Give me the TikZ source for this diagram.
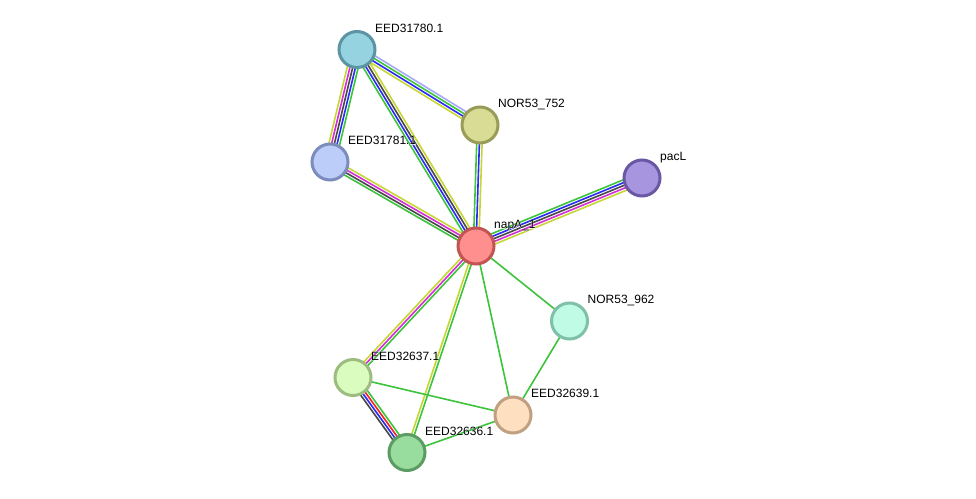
\documentclass[tikz,border=0pt]{standalone}
\usepackage{fontspec}
\setmainfont{Liberation Sans}
\newfontfamily\halofont[FakeBold=3]{Liberation Sans}
\usetikzlibrary{calc,backgrounds}

% evidence channel colours
\definecolor{chgreen}{HTML}{3CC43C}
\definecolor{chblue}{HTML}{2A2AF5}
\definecolor{chgray}{HTML}{484848}
\definecolor{chmagenta}{HTML}{D42FD4}
\definecolor{chyellow}{HTML}{C6D634}
\definecolor{chlavender}{HTML}{A8A8FA}
\definecolor{chred}{HTML}{F02424}

% protein fills and rims
\definecolor{fA}{HTML}{94D3DF}\definecolor{bA}{HTML}{5C94A4}
\definecolor{fB}{HTML}{D8DC94}\definecolor{bB}{HTML}{999C58}
\definecolor{fC}{HTML}{BCCDFA}\definecolor{bC}{HTML}{7C8CBC}
\definecolor{fD}{HTML}{A895E0}\definecolor{bD}{HTML}{6A58A4}
\definecolor{fE}{HTML}{FF8F8F}\definecolor{bE}{HTML}{C25454}
\definecolor{fF}{HTML}{C0FBE6}\definecolor{bF}{HTML}{7EC0A8}
\definecolor{fG}{HTML}{DAFDBF}\definecolor{bG}{HTML}{9CBC80}
\definecolor{fH}{HTML}{FEDFC0}\definecolor{bH}{HTML}{C0A080}
\definecolor{fI}{HTML}{98DC9E}\definecolor{bI}{HTML}{5C9C62}

\tikzset{
  protein/.style={circle, minimum size=36pt, inner sep=0pt, line width=3pt},
  plabel/.style={anchor=base west, inner sep=0pt, font=\fontsize{12}{14}\selectfont},
  halo/.style={plabel, text=white, font=\fontsize{12}{14}\selectfont\halofont},
  edgeline/.style={line width=1.6pt},
}

% parallel coloured lines between two proteins: #1,#2 nodes, #3 count, #4 colours
\newcommand\chan[4]{%
  \foreach \c [count=\i] in {#4}{%
    \pgfmathsetmacro\off{(\i-1-(#3-1)/2)*2.7}%
    \draw[edgeline, draw=\c] ($(#1.center)!\off pt!90:(#2.center)$) -- ($(#2.center)!\off pt!-90:(#1.center)$);
  }%
}
% protein name with a white halo underneath
\newcommand\protlabel[3]{%
  \node[halo] (h#1) at ($(#2.center)+(18,-17.5)$) {#3};
  \node[plabel] (#1) at ($(#2.center)+(18,-17.5)$) {#3};
}

\begin{document}
\begin{tikzpicture}[x=1pt, y=-1pt]
  \useasboundingbox (0,0) rectangle (976,498);

  \node[protein, fill=fA, draw=bA] (p31780) at (357,49.5) {};
  \node[protein, fill=fB, draw=bB] (p752)   at (480,125) {};
  \node[protein, fill=fC, draw=bC] (p31781) at (330,162) {};
  \node[protein, fill=fD, draw=bD] (pacL)   at (642,178) {};
  \node[protein, fill=fE, draw=bE] (napA)   at (476,246) {};
  \node[protein, fill=fF, draw=bF] (p962)   at (569.5,321) {};
  \node[protein, fill=fG, draw=bG] (p32637) at (353,377.5) {};
  \node[protein, fill=fH, draw=bH] (p32639) at (513,415) {};
  \node[protein, fill=fI, draw=bI] (p32636) at (407,452.5) {};

  \begin{pgfonlayer}{background}
    \fill[white] (0,0) rectangle (976,498);
    \chan{p31780}{p31781}{5}{chyellow,chmagenta,chgray,chblue,chgreen}
    \chan{p31780}{p752}{4}{chyellow,chblue,chgreen,chlavender}
    \chan{p31780}{napA}{4}{chgreen,chblue,chgray,chyellow}
    \chan{p752}{napA}{3}{chgreen,chblue,chyellow}
    \chan{p31781}{napA}{4}{chgreen,chgray,chmagenta,chyellow}
    \chan{napA}{pacL}{5}{chyellow,chmagenta,chgray,chblue,chgreen}
    \chan{napA}{p32637}{3}{chyellow,chmagenta,chgreen}
    \chan{napA}{p32636}{2}{chyellow,chgreen}
    \chan{napA}{p32639}{1}{chgreen}
    \chan{napA}{p962}{1}{chgreen}
    \chan{p962}{p32639}{1}{chgreen}
    \chan{p32637}{p32639}{1}{chgreen}
    \chan{p32636}{p32639}{1}{chgreen}
    \chan{p32637}{p32636}{4}{chgray,chblue,chred,chgreen}
  \end{pgfonlayer}

  \protlabel{l31780}{p31780}{EED31780.1}
  \protlabel{l752}{p752}{NOR53\_752}
  \protlabel{l31781}{p31781}{EED31781.1}
  \protlabel{lpacL}{pacL}{pacL}
  \protlabel{lnapA}{napA}{napA\_1}
  \protlabel{l962}{p962}{NOR53\_962}
  \protlabel{l32637}{p32637}{EED32637.1}
  \protlabel{l32639}{p32639}{EED32639.1}
  \protlabel{l32636}{p32636}{EED32636.1}
\end{tikzpicture}
\end{document}
